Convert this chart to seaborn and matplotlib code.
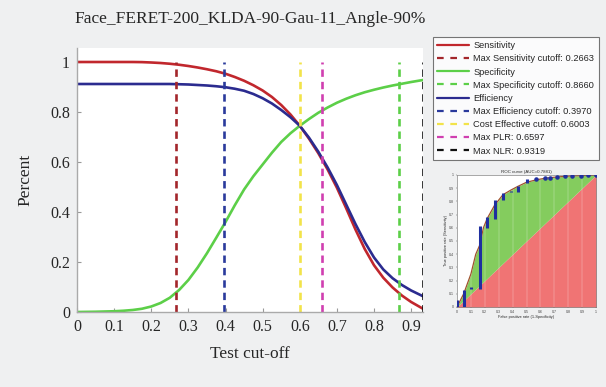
import numpy as np
import pandas as pd
import matplotlib
matplotlib.use("Agg")
import matplotlib.pyplot as plt
from matplotlib.lines import Line2D
import seaborn as sns

# ---------------- data ----------------
cutoff = [0.0, 0.025, 0.05, 0.075, 0.10, 0.125, 0.15, 0.175, 0.20, 0.225, 0.25, 0.275,
          0.30, 0.325, 0.35, 0.375, 0.40, 0.425, 0.45, 0.475, 0.50, 0.525, 0.55, 0.575,
          0.60, 0.625, 0.65, 0.675, 0.70, 0.725, 0.75, 0.775, 0.80, 0.825, 0.85, 0.875,
          0.90, 0.9319]
sensitivity = [1.0, 1.0, 1.0, 1.0, 1.0, 1.0, 1.0, 0.9995, 0.998, 0.996, 0.993, 0.989,
               0.984, 0.978, 0.971, 0.963, 0.953, 0.940, 0.925, 0.907, 0.886, 0.860, 0.828, 0.790,
               0.745, 0.693, 0.635, 0.570, 0.497, 0.415, 0.330, 0.252, 0.187, 0.137, 0.098, 0.066,
               0.040, 0.013]
specificity = [0.0, 0.0005, 0.001, 0.002, 0.003, 0.005, 0.008, 0.013, 0.022, 0.036, 0.057, 0.088,
               0.128, 0.178, 0.235, 0.297, 0.360, 0.427, 0.490, 0.543, 0.590, 0.637, 0.680, 0.715,
               0.745, 0.772, 0.797, 0.818, 0.837, 0.853, 0.867, 0.879, 0.889, 0.898, 0.906, 0.913,
               0.920, 0.928]
efficiency = [0.912, 0.912, 0.912, 0.912, 0.912, 0.912, 0.912, 0.912, 0.912, 0.912, 0.912, 0.911,
              0.910, 0.908, 0.906, 0.903, 0.899, 0.893, 0.885, 0.872, 0.855, 0.834, 0.808, 0.779,
              0.745, 0.697, 0.641, 0.578, 0.508, 0.430, 0.352, 0.280, 0.218, 0.170, 0.135, 0.108,
              0.086, 0.063]

cut_labels = ["Max Sensitivity cutoff: 0.2663", "Max Specificity cutoff: 0.8660",
              "Max Efficiency cutoff: 0.3970", "Cost Effective cutoff: 0.6003",
              "Max PLR: 0.6597", "Max NLR: 0.9319"]
cut_values = [0.2663, 0.8660, 0.3970, 0.6003, 0.6597, 0.9319]

roc_fpr = [0.0, 0.048, 0.10, 0.135, 0.164, 0.19, 0.217, 0.27, 0.33, 0.386, 0.44, 0.50,
           0.57, 0.63, 0.67, 0.72, 0.78, 0.83, 0.89, 0.94, 1.0]
roc_tpr = [0.0, 0.10, 0.25, 0.40, 0.47, 0.60, 0.67, 0.77, 0.85, 0.885, 0.915, 0.945,
           0.963, 0.975, 0.98, 0.985, 0.99, 0.993, 0.995, 0.997, 1.0]
bar_x = [0.0, 0.048, 0.104, 0.164, 0.217, 0.27, 0.33, 0.386, 0.44, 0.50]
bar_lo = [0.0, 0.0, 0.14, 0.14, 0.60, 0.67, 0.81, 0.87, 0.87, 0.94]
bar_hi = [0.05, 0.13, 0.15, 0.61, 0.68, 0.81, 0.86, 0.88, 0.92, 0.97]
dot_x = [0.57, 0.63, 0.67, 0.72, 0.78, 0.83, 0.89, 0.94, 1.0]
dot_y = [0.967, 0.975, 0.98, 0.987, 0.99, 0.995, 0.995, 0.997, 1.0]

# ---------------- style ----------------
sns.set_style("ticks")
plt.rcParams["font.family"] = ["Liberation Serif", "DejaVu Serif"]
BG = "#eff0f1"

fig = plt.figure(figsize=(6.06, 3.87), dpi=100, facecolor=BG)
ax = fig.add_axes([77/606, 1-312/387, (423-77)/606, (312-48)/387])
ax.set_facecolor("white")

df = pd.DataFrame({"cutoff": cutoff * 3,
                   "value": sensitivity + specificity + efficiency,
                   "curve": ["Sensitivity"] * len(cutoff) + ["Specificity"] * len(cutoff)
                            + ["Efficiency"] * len(cutoff)})
curve_colors = {"Sensitivity": "#c1272d", "Specificity": "#5ccf48", "Efficiency": "#2b2b8f"}
sns.lineplot(data=df, x="cutoff", y="value", hue="curve", palette=curve_colors,
             linewidth=1.9, ax=ax, legend=False, sort=False, estimator=None)

cut_colors = ["#a3262b", "#5ccf48", "#2a3a9c", "#f2e34a", "#d03fb0", "#111111"]
for v, c in zip(cut_values, cut_colors):
    ax.plot([v, v], [0, 1], color=c, linestyle=(0, (2.8, 1.9)), linewidth=1.9)

ax.set_xlim(0, 0.9319)
ax.set_ylim(0, 1.056)
ax.set_xticks(np.arange(0, 0.91, 0.1))
ax.set_xticklabels(["0", "0.1", "0.2", "0.3", "0.4", "0.5", "0.6", "0.7", "0.8", "0.9"])
ax.set_yticks([0, 0.2, 0.4, 0.6, 0.8, 1.0])
ax.set_yticklabels(["0", "0.2", "0.4", "0.6", "0.8", "1"])
ax.tick_params(direction="in", length=3, color="#999999", labelsize=11.5, pad=5)
for s in ["top", "right"]:
    ax.spines[s].set_visible(False)
for s in ["left", "bottom"]:
    ax.spines[s].set_color("#aaaaaa")
    ax.spines[s].set_linewidth(1.0)
ax.set_xlabel("Test cut-off", fontsize=12.5, labelpad=8)
ax.set_ylabel("Percent", fontsize=12.5, labelpad=12)
ax.set_title("Face_FERET-200_KLDA-90-Gau-11_Angle-90%", fontsize=12.5, pad=18)

# ---------------- legend ----------------
handles = [
    Line2D([], [], color=curve_colors["Sensitivity"], lw=1.6),
    Line2D([], [], color=cut_colors[0], lw=1.6, ls=(0, (3, 3))),
    Line2D([], [], color=curve_colors["Specificity"], lw=1.6),
    Line2D([], [], color=cut_colors[1], lw=1.6, ls=(0, (3, 3))),
    Line2D([], [], color=curve_colors["Efficiency"], lw=1.6),
    Line2D([], [], color=cut_colors[2], lw=1.6, ls=(0, (3, 3))),
    Line2D([], [], color=cut_colors[3], lw=1.6, ls=(0, (3, 3))),
    Line2D([], [], color=cut_colors[4], lw=1.6, ls=(0, (3, 3))),
    Line2D([], [], color=cut_colors[5], lw=1.6, ls=(0, (3, 3))),
]
labels = ["Sensitivity", cut_labels[0], "Specificity", cut_labels[1], "Efficiency",
          cut_labels[2], cut_labels[3], cut_labels[4], cut_labels[5]]
leg = fig.legend(handles, labels, loc="upper left", bbox_to_anchor=(433/606, 1-37/387),
                 bbox_transform=fig.transFigure, frameon=True, fancybox=False,
                 prop={"family": "Liberation Sans", "size": 6.7}, handlelength=3.4,
                 labelspacing=0.45, borderpad=0.45, handletextpad=0.5, borderaxespad=0)
leg.get_frame().set_edgecolor("#555555")
leg.get_frame().set_linewidth(0.8)
leg.get_frame().set_facecolor("white")

# ---------------- inset ROC ----------------
ins = fig.add_axes([457/606, 1-307/387, (596-457)/606, (307-175)/387])
ins.set_facecolor("white")
ins.fill_between([0, 1], [0, 0], [0, 1], color="#f07474", linewidth=0, zorder=1)
ins.fill_between(roc_fpr, roc_fpr, roc_tpr, color="#84cc5e", linewidth=0, zorder=1)
for g in np.arange(0.1, 1.0, 0.1):
    ins.axvline(g, color="white", lw=0.3, alpha=0.6, zorder=1.5)
sns.lineplot(x=roc_fpr, y=roc_tpr, color="#a0522d", linewidth=0.9, ax=ins,
             sort=False, estimator=None, zorder=2)
ins.vlines(bar_x, bar_lo, bar_hi, color="#1f2fa0", linewidth=2.2, zorder=3)
ins.scatter(dot_x, dot_y, s=5, color="#1f2fa0", zorder=3)
ins.set_xlim(0, 1)
ins.set_ylim(0, 1)
ins.set_xticks(np.arange(0, 1.01, 0.1))
ins.set_yticks(np.arange(0, 1.01, 0.1))
ins.set_xticklabels(["0", "0.1", "0.2", "0.3", "0.4", "0.5", "0.6", "0.7", "0.8", "0.9", "1"])
ins.set_yticklabels(["0", "0.1", "0.2", "0.3", "0.4", "0.5", "0.6", "0.7", "0.8", "0.9", "1"])
ins.tick_params(labelsize=2.6, length=1, width=0.3, pad=1, colors="#444444",
                labelfontfamily="Liberation Sans")
for s in ins.spines.values():
    s.set_linewidth(0.4)
    s.set_color("#666666")
ins.set_title("ROC curve (AUC=0.7881)", fontsize=3.2, pad=1.5, family="Liberation Sans")
ins.set_xlabel("False positive rate (1-Specificity)", fontsize=2.8, labelpad=1,
               family="Liberation Sans")
ins.set_ylabel("True positive rate (Sensitivity)", fontsize=2.8, labelpad=1,
               family="Liberation Sans")

fig.savefig("out.png", dpi=100, facecolor=BG)
